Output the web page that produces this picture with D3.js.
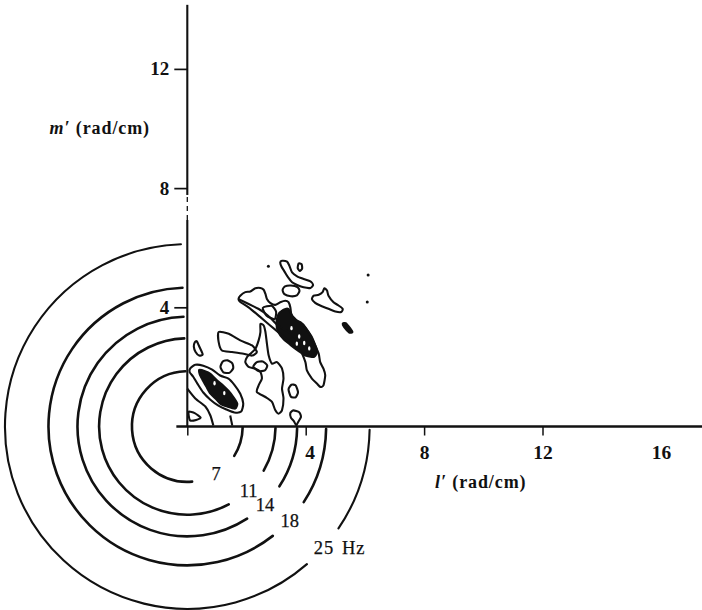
<!DOCTYPE html>
<html>
<head>
<meta charset="utf-8">
<script src="https://cdn.jsdelivr.net/npm/d3@7"></script>
<style>
  html, body { margin: 0; padding: 0; background: #fff; }
  svg { display: block; }
  text { font-family: "Liberation Serif", "Times New Roman", serif; fill: #111; }
</style>
</head>
<body>
<svg id="chart" width="702" height="610"></svg>
<script>
// ---- axes (wavenumber, rad/cm) ----
const xTicks = [0, 4, 8, 12, 16];
const yTicks = [4, 8, 12];

// ---- constant-frequency rings: frequency (Hz) and wavenumber radius (rad/cm) ----
const ringFreqs = [7, 11, 14, 18, 25];
const ringRadii = [1.87, 2.98, 3.71, 4.69, 6.16];

// ---- spectral contours, [l′, m′] in rad/cm ----
const upperOuter = [[1.73,4.28],[1.79,4.39],[1.96,4.51],[2.13,4.53],[2.30,4.64],[2.47,4.65],[2.58,4.59],[2.64,4.45],[2.69,4.28],[2.80,4.15],[2.97,4.08],[3.14,4.17],[3.31,4.22],[3.42,4.17],[3.48,4.00],[3.51,3.78],[3.59,3.61],[3.82,3.50],[3.99,3.33],[4.16,3.05],[4.32,2.72],[4.44,2.44],[4.49,2.16],[4.60,1.94],[4.66,1.72],[4.60,1.38],[4.49,1.33],[4.38,1.44],[4.21,1.61],[4.04,1.88],[3.99,2.16],[3.82,2.55],[3.48,2.83],[3.14,3.11],[2.80,3.39],[2.47,3.67],[2.07,4.00],[1.79,4.18]];
const upperInner = [[1.72,4.28],[2.40,3.95],[2.74,3.71],[3.07,3.38],[3.41,3.18],[3.68,2.94],[3.95,2.68],[4.12,2.44]];
const upperCore = [[3.24,3.91],[3.41,3.95],[3.55,3.71],[3.75,3.51],[3.99,3.31],[4.19,3.04],[4.32,2.74],[4.39,2.51],[4.29,2.34],[4.02,2.37],[3.75,2.54],[3.48,2.74],[3.24,2.94],[3.07,3.18],[3.01,3.44],[3.07,3.75]];
const upperHole = [[2.55,3.98],[2.85,4.05],[3.00,3.85],[2.95,3.60],[2.68,3.72]];
const ridgeLoop = [[3.20,5.56],[3.37,5.53],[3.45,5.39],[3.54,5.17],[3.71,5.04],[3.93,4.95],[4.16,4.87],[4.25,4.75],[4.16,4.65],[3.93,4.67],[3.71,4.75],[3.54,4.84],[3.40,5.01],[3.29,5.19],[3.18,5.37],[3.14,5.51]];
const ridgeKnot = [[3.76,5.47],[3.86,5.45],[3.88,5.30],[3.80,5.22],[3.73,5.32]];
const ridgeOval = [[3.22,4.58],[3.30,4.70],[3.50,4.73],[3.72,4.68],[3.79,4.55],[3.70,4.40],[3.50,4.37],[3.28,4.44]];
const footLobe = [[4.27,4.39],[4.44,4.42],[4.57,4.51],[4.63,4.64],[4.72,4.56],[4.77,4.39],[4.94,4.17],[5.11,4.06],[5.25,3.95],[5.20,3.84],[5.00,3.86],[4.72,3.97],[4.49,4.06],[4.32,4.15],[4.21,4.28]];
const smallCore = [[5.25,3.45],[5.35,3.47],[5.50,3.30],[5.58,3.17],[5.47,3.15],[5.30,3.33]];
const specks = [[2.74,5.38],[6.11,5.08],[6.08,4.18]];
// lighter flecks inside the densest contour bands
const coreFlecks = [[3.52,3.30],[3.78,3.02],[3.95,2.80],[4.12,2.62],[3.70,2.78],[0.92,1.45],[1.25,1.12]];

const middleLobe = [[2.47,3.44],[2.47,3.17],[2.41,2.89],[2.30,2.61],[2.13,2.44],[2.02,2.33],[1.96,2.16],[2.07,2.00],[2.30,1.94],[2.47,1.83],[2.52,1.61],[2.41,1.38],[2.35,1.16],[2.64,0.99],[2.86,0.83],[2.97,0.55],[3.08,0.43],[3.20,0.55],[3.25,0.94],[3.20,1.27],[3.25,1.61],[3.20,1.94],[3.03,2.16],[2.86,2.11],[2.75,2.38],[2.69,2.78],[2.64,3.17],[2.58,3.39]];
const middleOval = [[2.23,2.01],[2.35,2.16],[2.55,2.18],[2.70,2.05],[2.62,1.88],[2.40,1.86]];
const leftPatch = [[1.06,3.17],[1.40,3.11],[1.79,2.89],[2.19,2.72],[2.35,2.50],[2.19,2.38],[1.90,2.44],[1.51,2.50],[1.17,2.55],[1.06,2.83]];
const dropA = [[3.42,1.25],[3.52,1.40],[3.66,1.38],[3.74,1.15],[3.66,0.98],[3.50,1.00]];
const dropB = [[3.48,0.45],[3.58,0.54],[3.78,0.48],[3.84,0.32],[3.74,0.14],[3.68,0.04],[3.60,0.18],[3.50,0.30]];
const dropC = [[0.25,2.82],[0.32,2.86],[0.42,2.65],[0.52,2.42],[0.40,2.38],[0.28,2.50],[0.22,2.68]];

const lowerOuter = [[0.10,1.95],[0.27,2.07],[0.54,2.04],[0.84,1.91],[1.11,1.71],[1.39,1.61],[1.59,1.40],[1.79,1.10],[1.89,0.77],[1.82,0.50],[1.59,0.47],[1.32,0.57],[1.05,0.70],[0.78,0.90],[0.54,1.14],[0.34,1.44],[0.20,1.67],[0.08,1.82]];
const lowerCore = [[0.40,1.90],[0.60,1.86],[0.78,1.77],[1.01,1.54],[1.22,1.37],[1.39,1.20],[1.55,1.00],[1.69,0.77],[1.62,0.60],[1.35,0.67],[1.11,0.77],[0.95,0.94],[0.78,1.10],[0.64,1.34],[0.51,1.57],[0.42,1.75]];
const lowerHead = [[1.12,2.00],[1.20,2.18],[1.36,2.22],[1.52,2.12],[1.55,1.95],[1.42,1.80],[1.22,1.82]];
const lowerSkirt = [[0.00,1.27],[0.27,0.94],[0.61,0.67],[0.78,0.37],[0.88,0.03]];
const lowerStem = [[1.45,0.37],[1.52,0.03]];
const cornerLoop = [[0.05,0.50],[0.25,0.45],[0.45,0.30],[0.30,0.22],[0.10,0.20],[0.05,0.35]];

const closedLines = [upperOuter, upperHole, ridgeLoop, ridgeKnot, ridgeOval, footLobe,
  middleLobe, middleOval, leftPatch, dropA, dropB, dropC, lowerOuter, lowerHead, cornerLoop];
const openLines = [upperInner, lowerSkirt, lowerStem];
const filledCores = [upperCore, smallCore, lowerCore];

// ---- layout ----
// label gap of each ring, degrees counter-clockwise from the +l′ direction
const ringGaps = [[-85, -32], [-62, -30], [-57, -33], [-52, -33], [-49, -34]];

const svg = d3.select("#chart");
const x = d3.scaleLinear().domain([0, 16]).range([187.3, 660.9]);
const y = d3.scaleLinear().domain([0, 12]).range([426.5, 68.9]);
const cx = x(0), cy = y(0);
const rad = a => a * Math.PI / 180;

// ---- frequency rings ----
const rings = svg.append("g").attr("fill", "none").attr("stroke", "#111")
  .attr("stroke-linecap", "round");
ringRadii.forEach((r, i) => {
  const R = x(r) - x(0);
  const [g0, g1] = ringGaps[i];
  const sw = i === ringRadii.length - 1 ? 2.1 : 2.6;
  const main = d3.path();
  main.arc(cx, cy, R, -rad(92), -rad(360 + g0), true);
  const tail = d3.path();
  tail.arc(cx, cy, R, rad(1), -rad(g1), false);
  rings.append("path").attr("d", main.toString()).attr("stroke-width", sw);
  rings.append("path").attr("d", tail.toString()).attr("stroke-width", sw);

  const mid = rad((g0 + g1) / 2);
  const lx = cx + R * Math.cos(mid), ly = cy - R * Math.sin(mid);
  const t = svg.append("text").attr("y", ly).attr("dy", "0.36em")
    .attr("font-size", 18.5).attr("stroke", "#111").attr("stroke-width", 0.25);
  if (i === ringFreqs.length - 1) {
    t.attr("x", lx - 10).attr("text-anchor", "start").attr("word-spacing", 2)
      .attr("letter-spacing", 1).text(ringFreqs[i] + " Hz");
  } else {
    t.attr("x", lx).attr("text-anchor", "middle").text(ringFreqs[i]);
  }
});

// ---- contours ----
const closed = d3.line().x(d => x(d[0])).y(d => y(d[1])).curve(d3.curveCardinalClosed.tension(0.35));
const open = d3.line().x(d => x(d[0])).y(d => y(d[1])).curve(d3.curveCardinal.tension(0.35));
const cg = svg.append("g").attr("stroke", "#111").attr("stroke-linejoin", "round");
cg.selectAll("path.core").data(filledCores).join("path").attr("class", "core")
  .attr("d", closed).attr("fill", "#111").attr("stroke-width", 2);
cg.selectAll("path.ring").data(closedLines).join("path").attr("class", "ring")
  .attr("d", closed).attr("fill", "none").attr("stroke-width", 2.1);
cg.selectAll("path.open").data(openLines).join("path").attr("class", "open")
  .attr("d", open).attr("fill", "none").attr("stroke-width", 2.1);
cg.selectAll("circle.speck").data(specks).join("circle").attr("class", "speck")
  .attr("cx", d => x(d[0])).attr("cy", d => y(d[1])).attr("r", 1.5).attr("fill", "#111").attr("stroke", "none");
cg.selectAll("ellipse.fleck").data(coreFlecks).join("ellipse").attr("class", "fleck")
  .attr("cx", d => x(d[0])).attr("cy", d => y(d[1])).attr("rx", 1.2).attr("ry", 2.2)
  .attr("fill", "#fff").attr("stroke", "none");

// ---- axes ----
const axisG = svg.append("g").attr("stroke", "#111").attr("fill", "none");
axisG.append("line").attr("x1", x(-0.37)).attr("x2", x(17.5)).attr("y1", cy).attr("y2", cy)
  .attr("stroke-width", 2.7);
axisG.append("line").attr("x1", cx).attr("x2", cx).attr("y1", cy).attr("y2", y(6.93)).attr("stroke-width", 2.1);
axisG.append("line").attr("x1", cx).attr("x2", cx).attr("y1", y(6.93)).attr("y2", y(7.77))
  .attr("stroke-width", 1.3).attr("stroke-dasharray", "5,4");
axisG.append("line").attr("x1", cx).attr("x2", cx).attr("y1", y(7.77)).attr("y2", y(14.15)).attr("stroke-width", 2.1);

const xAxis = svg.append("g").attr("transform", `translate(0,${cy})`)
  .call(d3.axisBottom(x).tickValues(xTicks).tickSize(9).tickPadding(10)
    .tickFormat(d => d === 0 ? "" : d));
xAxis.select(".domain").remove();
xAxis.selectAll(".tick line").attr("stroke", "#111").attr("stroke-width", 1.5)
  .filter(d => d === 16).remove();
xAxis.selectAll(".tick text").attr("font-size", 19.5).attr("font-weight", "bold")
  .attr("font-family", "Liberation Serif, serif").attr("fill", "#111")
  .attr("dx", d => d === 4 ? 4 : 0);

const yAxis = svg.append("g").attr("transform", `translate(${cx},0)`)
  .call(d3.axisLeft(y).tickValues(yTicks).tickSize(13).tickPadding(5));
yAxis.select(".domain").remove();
yAxis.selectAll(".tick line").attr("stroke", "#111").attr("stroke-width", 1.7);
yAxis.selectAll(".tick text").attr("font-size", 19).attr("font-weight", "bold")
  .attr("font-family", "Liberation Serif, serif").attr("fill", "#111");

// ---- axis titles ----
const mt = svg.append("text").attr("x", 150).attr("y", 134).attr("text-anchor", "end")
  .attr("font-size", 18).attr("font-weight", "bold").attr("letter-spacing", 0.9);
mt.append("tspan").attr("font-style", "italic").text("m′");
mt.append("tspan").text(" (rad/cm)");

const lt = svg.append("text").attr("x", 435).attr("y", 488).attr("text-anchor", "start")
  .attr("font-size", 18).attr("font-weight", "bold").attr("letter-spacing", 0.9);
lt.append("tspan").attr("font-style", "italic").text("l′");
lt.append("tspan").text(" (rad/cm)");
</script>
</body>
</html>
